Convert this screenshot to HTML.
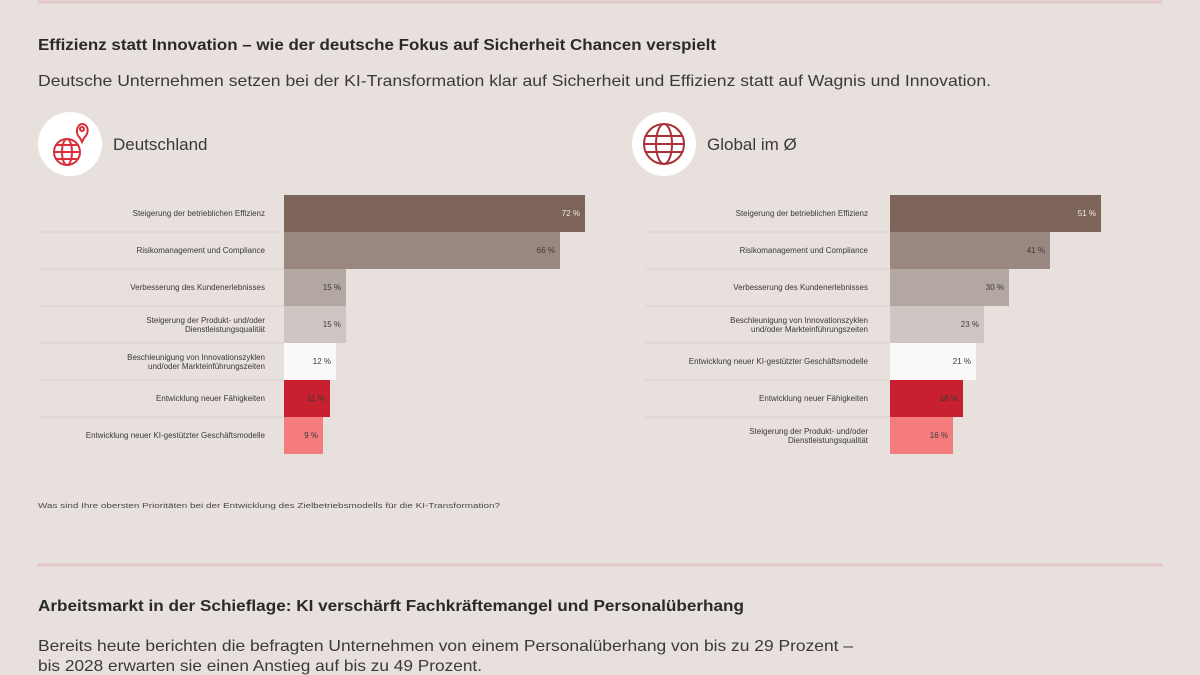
<!DOCTYPE html>
<html><head><meta charset="utf-8"><style>
html,body{margin:0;padding:0;background:#e7e0dd;}
svg{display:block;font-family:"Liberation Sans Narrow","Liberation Sans",sans-serif;}
</style></head><body>
<svg width="1200" height="675" viewBox="0 0 1200 675" xmlns="http://www.w3.org/2000/svg">
<rect width="1200" height="675" fill="#e7e0dd"/>
<line x1="38" y1="2" x2="1162" y2="2" stroke="#e3c6c8" stroke-width="3"/>
<text x="38" y="50" font-size="16" font-weight="bold" fill="#2a2a2a" textLength="678" lengthAdjust="spacingAndGlyphs">Effizienz statt Innovation – wie der deutsche Fokus auf Sicherheit Chancen verspielt</text>
<text x="38" y="86" font-size="16" fill="#3a3a3a" textLength="953" lengthAdjust="spacingAndGlyphs">Deutsche Unternehmen setzen bei der KI-Transformation klar auf Sicherheit und Effizienz statt auf Wagnis und Innovation.</text>

<!-- icons -->
<circle cx="70" cy="144" r="32" fill="#fff"/>
<g fill="none" stroke="#d8303b" stroke-width="2">
<circle cx="67" cy="152" r="13"/><ellipse cx="67" cy="152" rx="5" ry="13"/><line x1="54" y1="152" x2="80" y2="152"/><line x1="56" y1="145" x2="78" y2="145"/><line x1="56" y1="159" x2="78" y2="159"/>
<path d="M80 138 c-6 -6 -2 -14 2 -14 c6 0 8 8 2 14 l-2 4 z"/><circle cx="82" cy="129" r="2"/>
</g>
<text x="113" y="150" font-size="17" fill="#3a3a3a">Deutschland</text>
<circle cx="664" cy="144" r="32" fill="#fff"/>
<g fill="none" stroke="#a8313a" stroke-width="2">
<circle cx="664" cy="144" r="20"/><ellipse cx="664" cy="144" rx="8" ry="20"/><line x1="644" y1="144" x2="684" y2="144"/><line x1="646" y1="136" x2="682" y2="136"/><line x1="646" y1="152" x2="682" y2="152"/>
</g>
<text x="707" y="150" font-size="17" fill="#3a3a3a">Global im Ø</text>

<g font-size="8" fill="#3a3a3a">
<!-- left chart -->
<g stroke="#d9d1ce" stroke-width="1">
<line x1="40" y1="232" x2="284" y2="232"/><line x1="40" y1="269" x2="284" y2="269"/><line x1="40" y1="306" x2="284" y2="306"/><line x1="40" y1="343" x2="284" y2="343"/><line x1="40" y1="380" x2="284" y2="380"/><line x1="40" y1="417" x2="284" y2="417"/>
<line x1="645" y1="232" x2="890" y2="232"/><line x1="645" y1="269" x2="890" y2="269"/><line x1="645" y1="306" x2="890" y2="306"/><line x1="645" y1="343" x2="890" y2="343"/><line x1="645" y1="380" x2="890" y2="380"/><line x1="645" y1="417" x2="890" y2="417"/>
</g>
<rect x="284" y="195" width="301" height="37" fill="#7d6458"/>
<rect x="284" y="232" width="276" height="37" fill="#9a8880"/>
<rect x="284" y="269" width="62" height="37" fill="#b3a7a2"/>
<rect x="284" y="306" width="62" height="37" fill="#cfc6c3"/>
<rect x="284" y="343" width="52" height="37" fill="#fbf9f8"/>
<rect x="284" y="380" width="46" height="37" fill="#c8202f"/>
<rect x="284" y="417" width="39" height="37" fill="#f47c7c"/>
<g text-anchor="end">
<text x="265" y="216">Steigerung der betrieblichen Effizienz</text>
<text x="265" y="253">Risikomanagement und Compliance</text>
<text x="265" y="290">Verbesserung des Kundenerlebnisses</text>
<text x="265" y="323">Steigerung der Produkt- und/oder</text><text x="265" y="332">Dienstleistungsqualität</text>
<text x="265" y="360">Beschleunigung von Innovationszyklen</text><text x="265" y="369">und/oder Markteinführungszeiten</text>
<text x="265" y="401">Entwicklung neuer Fähigkeiten</text>
<text x="265" y="438">Entwicklung neuer KI-gestützter Geschäftsmodelle</text>
<text x="580" y="216" fill="#f3ece9">72 %</text>
<text x="555" y="253">66 %</text>
<text x="341" y="290">15 %</text>
<text x="341" y="327">15 %</text>
<text x="331" y="364">12 %</text>
<text x="325" y="401">11 %</text>
<text x="318" y="438">9 %</text>
</g>
<!-- right chart -->
<rect x="890" y="195" width="211" height="37" fill="#7d6458"/>
<rect x="890" y="232" width="160" height="37" fill="#9a8880"/>
<rect x="890" y="269" width="119" height="37" fill="#b3a7a2"/>
<rect x="890" y="306" width="94" height="37" fill="#cfc6c3"/>
<rect x="890" y="343" width="86" height="37" fill="#fbf9f8"/>
<rect x="890" y="380" width="73" height="37" fill="#c8202f"/>
<rect x="890" y="417" width="63" height="37" fill="#f47c7c"/>
<g text-anchor="end">
<text x="868" y="216">Steigerung der betrieblichen Effizienz</text>
<text x="868" y="253">Risikomanagement und Compliance</text>
<text x="868" y="290">Verbesserung des Kundenerlebnisses</text>
<text x="868" y="323">Beschleunigung von Innovationszyklen</text><text x="868" y="332">und/oder Markteinführungszeiten</text>
<text x="868" y="364">Entwicklung neuer KI-gestützter Geschäftsmodelle</text>
<text x="868" y="401">Entwicklung neuer Fähigkeiten</text>
<text x="868" y="434">Steigerung der Produkt- und/oder</text><text x="868" y="443">Dienstleistungsqualität</text>
<text x="1096" y="216" fill="#f3ece9">51 %</text>
<text x="1045" y="253">41 %</text>
<text x="1004" y="290">30 %</text>
<text x="979" y="327">23 %</text>
<text x="971" y="364">21 %</text>
<text x="958" y="401">18 %</text>
<text x="948" y="438">16 %</text>
</g>
</g>
<text x="38" y="508" font-size="7" fill="#4a4a4a" textLength="462" lengthAdjust="spacingAndGlyphs">Was sind Ihre obersten Prioritäten bei der Entwicklung des Zielbetriebsmodells für die KI-Transformation?</text>
<line x1="38" y1="565" x2="1162" y2="565" stroke="#e3c6c8" stroke-width="3"/>
<text x="38" y="611" font-size="16" font-weight="bold" fill="#2a2a2a" textLength="706" lengthAdjust="spacingAndGlyphs">Arbeitsmarkt in der Schieflage: KI verschärft Fachkräftemangel und Personalüberhang</text>
<text x="38" y="651" font-size="16" fill="#3a3a3a" textLength="815" lengthAdjust="spacingAndGlyphs">Bereits heute berichten die befragten Unternehmen von einem Personalüberhang von bis zu 29 Prozent –</text>
<text x="38" y="671" font-size="16" fill="#3a3a3a" textLength="444" lengthAdjust="spacingAndGlyphs">bis 2028 erwarten sie einen Anstieg auf bis zu 49 Prozent.</text>
</svg>
</body></html>
